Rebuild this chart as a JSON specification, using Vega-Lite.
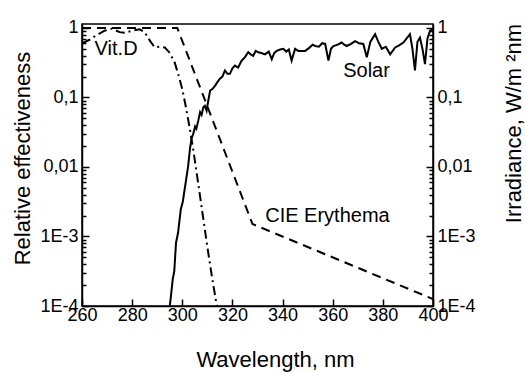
{
  "$schema": "https://vega.github.io/schema/vega-lite/v6.json",
  "autosize": "none",
  "width": 351,
  "height": 282,
  "padding": {"left": 82, "top": 24, "right": 93, "bottom": 66},
  "background": "white",
  "config": {
    "font": "Liberation Sans",
    "view": {"stroke": "black", "strokeWidth": 1.5},
    "axis": {"ticks": true, "domainColor": "black", "domainWidth": 1.5, "tickColor": "black", "tickWidth": 1.5, "tickOpacity": 1, "labelColor": "black", "titleColor": "black", "labelFont": "Liberation Sans", "titleFont": "Liberation Sans", "labelFontSize": 18, "titleFontSize": 22, "titleFontWeight": "normal", "grid": false, "labelOverlap": false, "labelBound": false, "labelFlush": false}
  },
  "datasets": {
    "solar": [
      {"wl": 295.0, "v": 0.0001}, {"wl": 295.5, "v": 0.000141}, {"wl": 296.2, "v": 0.000245}, {"wl": 296.8, "v": 0.000316},
      {"wl": 297.5, "v": 0.000813}, {"wl": 298.3, "v": 0.00112}, {"wl": 299.4, "v": 0.00245}, {"wl": 300.2, "v": 0.00316},
      {"wl": 301.5, "v": 0.00646}, {"wl": 302.3, "v": 0.01}, {"wl": 303.1, "v": 0.0186}, {"wl": 303.7, "v": 0.0257},
      {"wl": 304.4, "v": 0.0302}, {"wl": 305.1, "v": 0.038}, {"wl": 305.6, "v": 0.0355}, {"wl": 306.4, "v": 0.0468},
      {"wl": 307.1, "v": 0.0617}, {"wl": 307.7, "v": 0.0562}, {"wl": 308.4, "v": 0.0724}, {"wl": 309.0, "v": 0.0759},
      {"wl": 309.7, "v": 0.0646}, {"wl": 310.4, "v": 0.0912}, {"wl": 311.1, "v": 0.126}, {"wl": 312.0, "v": 0.132},
      {"wl": 313.1, "v": 0.148}, {"wl": 314.0, "v": 0.166}, {"wl": 315.0, "v": 0.186}, {"wl": 316.0, "v": 0.2},
      {"wl": 317.0, "v": 0.245}, {"wl": 318.0, "v": 0.219}, {"wl": 319.0, "v": 0.219}, {"wl": 320.0, "v": 0.263},
      {"wl": 321.0, "v": 0.288}, {"wl": 322.3, "v": 0.269}, {"wl": 323.5, "v": 0.331}, {"wl": 325.0, "v": 0.38},
      {"wl": 326.3, "v": 0.447}, {"wl": 327.3, "v": 0.417}, {"wl": 328.3, "v": 0.398}, {"wl": 329.3, "v": 0.468},
      {"wl": 330.3, "v": 0.447}, {"wl": 331.5, "v": 0.437}, {"wl": 333.0, "v": 0.417}, {"wl": 334.5, "v": 0.457},
      {"wl": 335.7, "v": 0.355}, {"wl": 336.7, "v": 0.437}, {"wl": 337.7, "v": 0.468}, {"wl": 339.0, "v": 0.49},
      {"wl": 340.3, "v": 0.501}, {"wl": 341.5, "v": 0.457}, {"wl": 342.5, "v": 0.49}, {"wl": 343.6, "v": 0.339},
      {"wl": 345.0, "v": 0.501}, {"wl": 346.3, "v": 0.468}, {"wl": 347.6, "v": 0.468}, {"wl": 349.0, "v": 0.468},
      {"wl": 350.5, "v": 0.513}, {"wl": 352.0, "v": 0.575}, {"wl": 353.0, "v": 0.55}, {"wl": 354.5, "v": 0.537},
      {"wl": 355.8, "v": 0.603}, {"wl": 357.0, "v": 0.589}, {"wl": 358.3, "v": 0.339}, {"wl": 359.3, "v": 0.501},
      {"wl": 360.3, "v": 0.55}, {"wl": 362.0, "v": 0.575}, {"wl": 363.6, "v": 0.617}, {"wl": 364.6, "v": 0.575},
      {"wl": 365.6, "v": 0.55}, {"wl": 367.3, "v": 0.589}, {"wl": 368.9, "v": 0.646}, {"wl": 370.5, "v": 0.603},
      {"wl": 372.2, "v": 0.589}, {"wl": 373.6, "v": 0.38}, {"wl": 375.0, "v": 0.631}, {"wl": 376.9, "v": 0.813},
      {"wl": 378.2, "v": 0.631}, {"wl": 379.6, "v": 0.501}, {"wl": 381.2, "v": 0.537}, {"wl": 382.9, "v": 0.417},
      {"wl": 384.9, "v": 0.525}, {"wl": 386.5, "v": 0.562}, {"wl": 388.2, "v": 0.617}, {"wl": 389.5, "v": 0.708},
      {"wl": 390.8, "v": 0.813}, {"wl": 391.8, "v": 0.501}, {"wl": 392.8, "v": 0.245}, {"wl": 393.8, "v": 0.631},
      {"wl": 394.8, "v": 0.724}, {"wl": 395.8, "v": 0.501}, {"wl": 396.8, "v": 0.302}, {"wl": 397.8, "v": 0.708},
      {"wl": 398.8, "v": 0.912}, {"wl": 399.5, "v": 0.955}, {"wl": 400.0, "v": 0.933}
    ],
    "vitd": [
      {"wl": 260, "v": 0.603}, {"wl": 263, "v": 0.676}, {"wl": 266, "v": 0.794}, {"wl": 269, "v": 0.912},
      {"wl": 272, "v": 0.977}, {"wl": 275, "v": 0.871}, {"wl": 277, "v": 0.851}, {"wl": 280, "v": 0.912},
      {"wl": 283, "v": 0.955}, {"wl": 285, "v": 0.871}, {"wl": 287, "v": 0.661}, {"wl": 289, "v": 0.525},
      {"wl": 291, "v": 0.537}, {"wl": 293, "v": 0.525}, {"wl": 295, "v": 0.437}, {"wl": 297, "v": 0.316},
      {"wl": 298.5, "v": 0.209}, {"wl": 300, "v": 0.132}, {"wl": 301.5, "v": 0.0708}, {"wl": 303, "v": 0.0355},
      {"wl": 304.5, "v": 0.0166}, {"wl": 306, "v": 0.00708}, {"wl": 308, "v": 0.00224}, {"wl": 310, "v": 0.000708},
      {"wl": 312, "v": 0.00024}, {"wl": 313.8, "v": 0.0001}
    ],
    "cie": [
      {"wl": 260, "v": 1}, {"wl": 298, "v": 1}, {"wl": 328, "v": 0.00151}, {"wl": 400, "v": 0.000126}
    ],
    "labels": [
      {"wl": 273.6, "v": 0.49, "text": "Vit.D"},
      {"wl": 373.5, "v": 0.24, "text": "Solar"},
      {"wl": 357.9, "v": 0.002, "text": "CIE Erythema"}
    ]
  },
  "layer": [
    {
      "layer": [
        {
          "data": {"name": "cie"},
          "mark": {"type": "line", "color": "black", "strokeWidth": 2, "strokeDash": [9, 6], "clip": true},
          "encoding": {
            "x": {"field": "wl", "type": "quantitative", "scale": {"domain": [260, 400], "nice": false},
              "axis": {"title": "Wavelength, nm", "ticks": true, "values": [260, 270, 280, 290, 300, 310, 320, 330, 340, 350, 360, 370, 380, 390, 400],
                "labelExpr": "datum.value % 20 == 0 ? datum.label : ''",
                "tickSize": {"condition": {"test": "datum.value % 20 == 0", "value": -7}, "value": -4},
                "labelPadding": 7, "titleX": 193, "titleY": 53, "titleBaseline": "middle", "titleAnchor": null, "titleAlign": "center"}},
            "y": {"field": "v", "type": "quantitative", "scale": {"type": "log", "domain": [0.0001, 1.14], "nice": false},
              "axis": {"orient": "left", "title": "Relative effectiveness", "ticks": true,
                "values": [0.0001, 0.0002, 0.0003, 0.0004, 0.0005, 0.0006, 0.0007, 0.0008, 0.0009, 0.001, 0.002, 0.003, 0.004, 0.005, 0.006, 0.007, 0.008, 0.009, 0.01, 0.02, 0.03, 0.04, 0.05, 0.06, 0.07, 0.08, 0.09, 0.1, 0.2, 0.3, 0.4, 0.5, 0.6, 0.7, 0.8, 0.9, 1],
                "labelExpr": "datum.value == 1 ? '1' : datum.value == 0.1 ? '0,1' : datum.value == 0.01 ? '0,01' : datum.value == 0.001 ? '1E-3' : datum.value == 0.0001 ? '1E-4' : ''",
                "tickSize": {"condition": {"test": "abs(log(datum.value)/LN10 - round(log(datum.value)/LN10)) < 0.001", "value": -7}, "value": -4},
                "labelPadding": 11, "titleX": -59.5, "titleY": 134, "titleAngle": -90, "titleBaseline": "middle", "titleAlign": "center", "titleAnchor": null}}
          }
        },
        {
          "data": {"name": "vitd"},
          "mark": {"type": "line", "color": "black", "strokeWidth": 2, "strokeDash": [9, 4, 2, 4], "clip": true},
          "encoding": {
            "x": {"field": "wl", "type": "quantitative"},
            "y": {"field": "v", "type": "quantitative"}
          }
        },
        {
          "data": {"name": "labels"},
          "mark": {"type": "text", "font": "Liberation Sans", "fontSize": 20, "color": "black", "align": "center", "baseline": "middle"},
          "encoding": {
            "x": {"field": "wl", "type": "quantitative"},
            "y": {"field": "v", "type": "quantitative"},
            "text": {"field": "text"}
          }
        }
      ]
    },
    {
      "data": {"name": "solar"},
      "mark": {"type": "line", "color": "black", "strokeWidth": 2, "clip": true},
      "encoding": {
        "x": {"field": "wl", "type": "quantitative"},
        "y": {"field": "v", "type": "quantitative", "scale": {"type": "log", "domain": [0.0001, 1.14], "nice": false},
          "axis": {"orient": "right", "title": "Irradiance, W/m ²nm", "ticks": true,
            "values": [0.0001, 0.0002, 0.0003, 0.0004, 0.0005, 0.0006, 0.0007, 0.0008, 0.0009, 0.001, 0.002, 0.003, 0.004, 0.005, 0.006, 0.007, 0.008, 0.009, 0.01, 0.02, 0.03, 0.04, 0.05, 0.06, 0.07, 0.08, 0.09, 0.1, 0.2, 0.3, 0.4, 0.5, 0.6, 0.7, 0.8, 0.9, 1],
            "labelExpr": "datum.value == 1 ? '1' : datum.value == 0.1 ? '0,1' : datum.value == 0.01 ? '0,01' : datum.value == 0.001 ? '1E-3' : datum.value == 0.0001 ? '1E-4' : ''",
            "tickSize": {"condition": {"test": "abs(log(datum.value)/LN10 - round(log(datum.value)/LN10)) < 0.001", "value": -7}, "value": -4},
            "labelPadding": 11, "titleX": 80, "titleY": 99, "titleAngle": -90, "titleBaseline": "middle", "titleAlign": "center", "titleAnchor": null}}
      }
    }
  ],
  "resolve": {"scale": {"y": "independent"}}
}
